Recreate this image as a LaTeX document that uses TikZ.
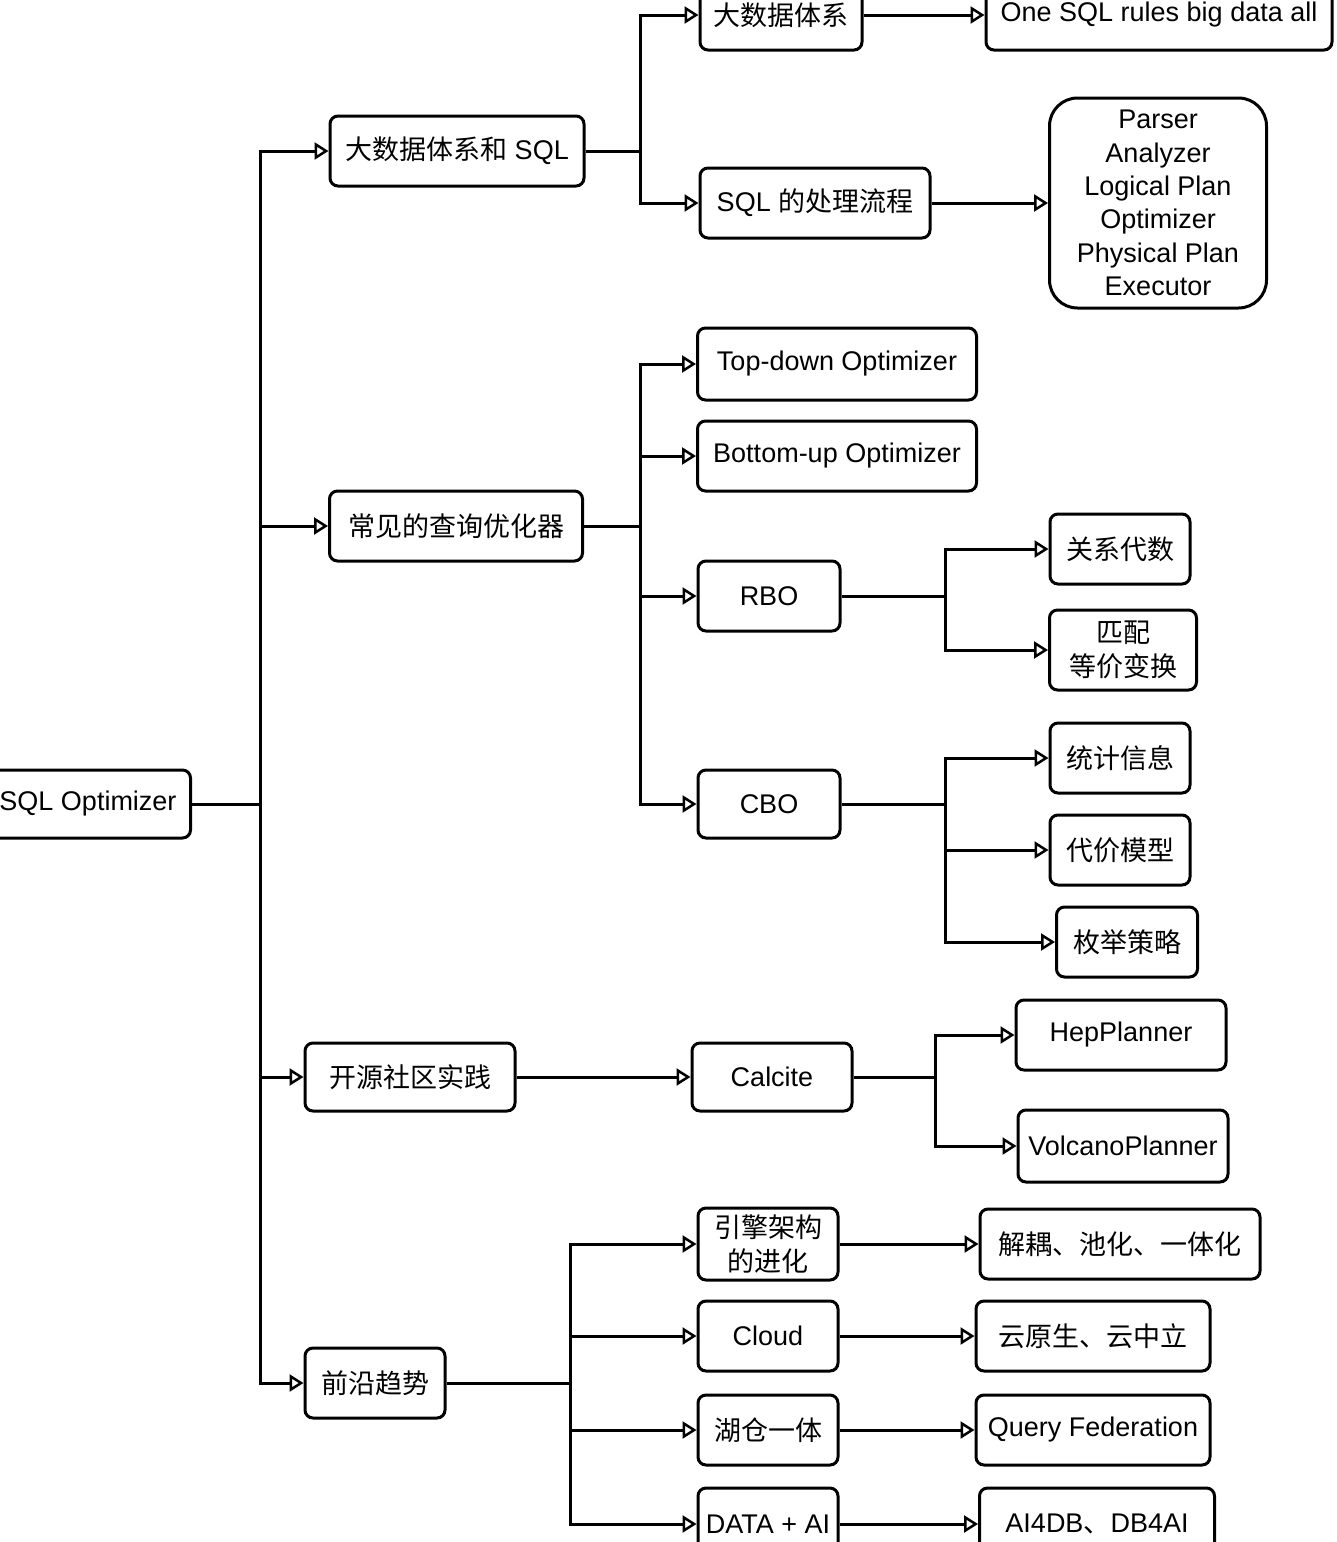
\documentclass[tikz,border=0pt]{standalone}
\usepackage{fontspec}
\setmainfont{Liberation Sans}
\newfontfamily\cjk{Noto Sans CJK SC}
\usepackage{tikz}
\usetikzlibrary{arrows.meta,positioning,calc}

\begin{document}
\begin{tikzpicture}[
    x=1pt, y=-1pt,
    box/.style={draw, line width=3pt, rounded corners=8pt, minimum height=70pt, align=center, inner sep=5pt, font=\fontsize{27}{34}\selectfont},
    arrow/.style={-{Triangle[open, length=14pt, width=17pt, line width=2.5pt]}, line width=3pt},
    link/.style={line width=3pt},
]
    \useasboundingbox (0,0) rectangle (1336,1542);

    % root and first level
    \node[box, minimum width=205pt, minimum height=68pt] (root) at (88,804) {SQL Optimizer};
    \node[box, minimum width=254pt] (bigdata) at (457,151) {{\cjk 大数据体系和} SQL};
    \node[box, minimum width=253pt] (common) at (456,526) {\cjk 常见的查询优化器};
    \node[box, minimum width=210pt, minimum height=68pt] (oss) at (410,1077) {\cjk 开源社区实践};
    \node[box, minimum width=140pt] (trend) at (375,1383) {\cjk 前沿趋势};

    % big data and SQL
    \node[box, minimum width=162pt] (bds) at (781,15) {\cjk 大数据体系};
    \node[box, minimum width=346pt] (onesql) at (1159,15) {One SQL rules big data all};
    \node[box, minimum width=230pt] (flow) at (815,203) {SQL {\cjk 的处理流程}};
    \node[box, minimum width=217pt, minimum height=210pt, rounded corners=28pt, font=\fontsize{27}{33.4}\selectfont] (stages) at (1158,203)
        {Parser\\Analyzer\\Logical Plan\\Optimizer\\Physical Plan\\Executor};

    % optimizers
    \node[box, minimum width=279pt, minimum height=72pt] (topdown) at (837,364) {Top-down Optimizer};
    \node[box, minimum width=279pt] (bottomup) at (837,456) {Bottom-up Optimizer};
    \node[box, minimum width=142pt] (rbo) at (769,596) {RBO};
    \node[box, minimum width=142pt, minimum height=68pt] (cbo) at (769,804) {CBO};
    \node[box, minimum width=140pt] (algebra) at (1120,549) {\cjk 关系代数};
    \node[box, minimum width=147pt, minimum height=80pt] (match) at (1123,650) {\cjk 匹配\\\cjk 等价变换};
    \node[box, minimum width=140pt] (stats) at (1120,758) {\cjk 统计信息};
    \node[box, minimum width=140pt] (cost) at (1120,850) {\cjk 代价模型};
    \node[box, minimum width=141pt] (enum) at (1127,942) {\cjk 枚举策略};

    % open source
    \node[box, minimum width=160pt, minimum height=68pt] (calcite) at (772,1077) {Calcite};
    \node[box, minimum width=210pt] (hep) at (1121,1035) {HepPlanner};
    \node[box, minimum width=210pt, minimum height=72pt] (volcano) at (1123,1146) {VolcanoPlanner};

    % trends
    \node[box, minimum width=140pt, minimum height=72pt] (engine) at (768,1244) {\cjk 引擎架构\\\cjk 的进化};
    \node[box, minimum width=280pt] (decouple) at (1120,1244) {\cjk 解耦、池化、一体化};
    \node[box, minimum width=140pt] (cloud) at (768,1336) {Cloud};
    \node[box, minimum width=234pt] (native) at (1093,1336) {\cjk 云原生、云中立};
    \node[box, minimum width=140pt] (lake) at (768,1430) {\cjk 湖仓一体};
    \node[box, minimum width=234pt] (fed) at (1093,1430) {Query Federation};
    \node[box, minimum width=140pt, minimum height=72pt, inner xsep=2pt] (dataai) at (768,1524) {DATA + AI};
    \node[box, minimum width=235pt, minimum height=72pt] (aidb) at (1097,1524) {AI4DB{\cjk 、}DB4AI};

    % branch points
    \coordinate (trunk) at (260,804);
    \coordinate (jbig) at (640,151);
    \coordinate (jcom) at (640,526);
    \coordinate (jrbo) at (945,596);
    \coordinate (jcbo) at (945,804);
    \coordinate (jcal) at (935,1077);
    \coordinate (jtrend) at (570,1383);

    \draw[link] (root) -- (trunk);
    \draw[arrow] (trunk) |- (bigdata);
    \draw[arrow] (trunk) |- (common);
    \draw[arrow] (trunk) |- (oss);
    \draw[arrow] (trunk) |- (trend);

    \draw[link] (bigdata) -- (jbig);
    \draw[arrow] (jbig) |- (bds);
    \draw[arrow] (jbig) |- (flow);
    \draw[arrow] (bds) -- (onesql);
    \draw[arrow] (flow) -- (stages);

    \draw[link] (common) -- (jcom);
    \draw[arrow] (jcom) |- (topdown);
    \draw[arrow] (jcom) |- (bottomup);
    \draw[arrow] (jcom) |- (rbo);
    \draw[arrow] (jcom) |- (cbo);

    \draw[link] (rbo) -- (jrbo);
    \draw[arrow] (jrbo) |- (algebra);
    \draw[arrow] (jrbo) |- (match);
    \draw[link] (cbo) -- (jcbo);
    \draw[arrow] (jcbo) |- (stats);
    \draw[arrow] (jcbo) |- (cost);
    \draw[arrow] (jcbo) |- (enum);

    \draw[arrow] (oss) -- (calcite);
    \draw[link] (calcite) -- (jcal);
    \draw[arrow] (jcal) |- (hep);
    \draw[arrow] (jcal) |- (volcano);

    \draw[link] (trend) -- (jtrend);
    \draw[arrow] (jtrend) |- (engine);
    \draw[arrow] (jtrend) |- (cloud);
    \draw[arrow] (jtrend) |- (lake);
    \draw[arrow] (jtrend) |- (dataai);
    \draw[arrow] (engine) -- (decouple);
    \draw[arrow] (cloud) -- (native);
    \draw[arrow] (lake) -- (fed);
    \draw[arrow] (dataai) -- (aidb);
\end{tikzpicture}
\end{document}
